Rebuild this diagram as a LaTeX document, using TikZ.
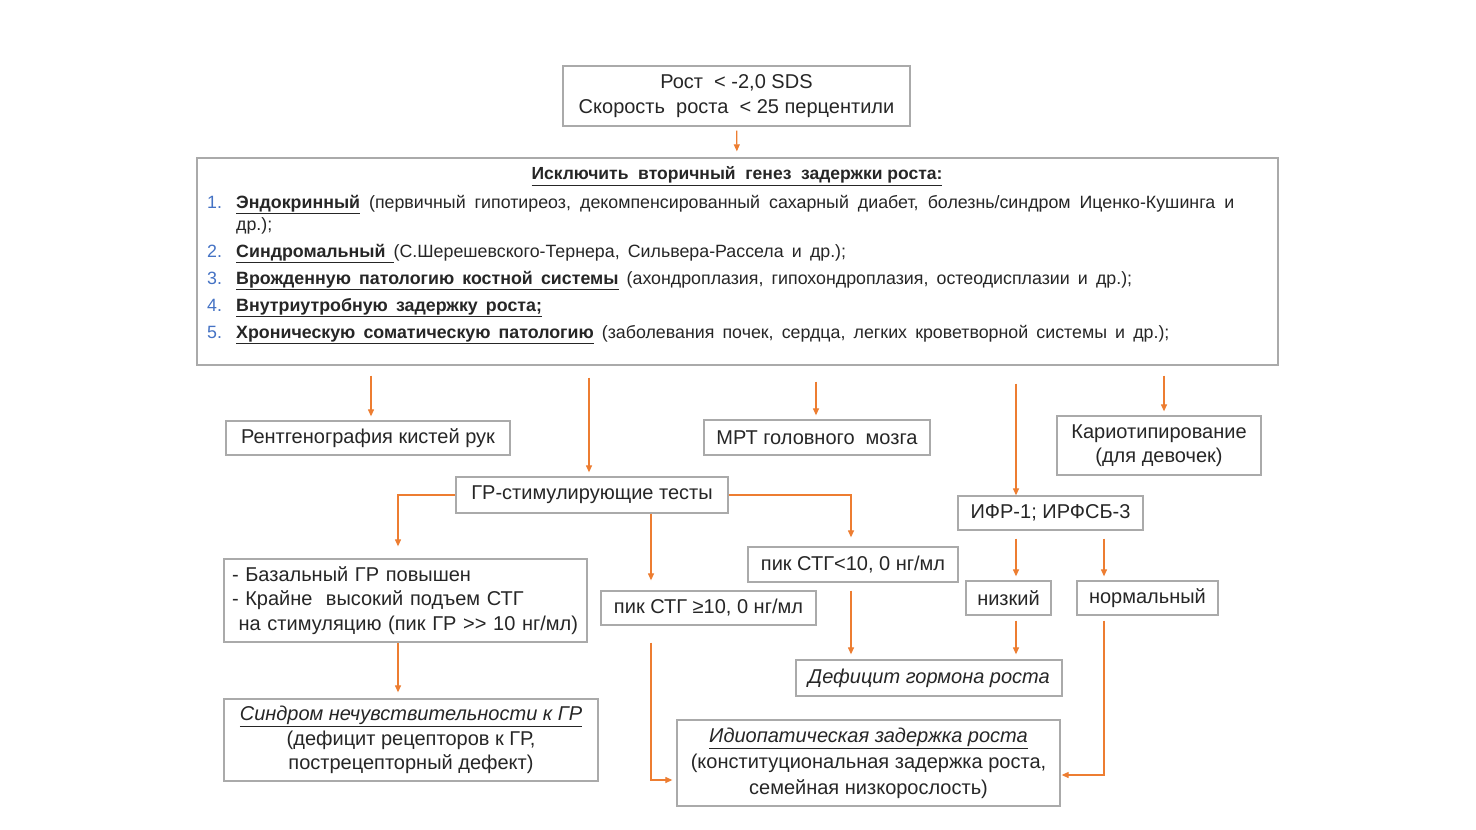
\documentclass[tikz,border=0pt]{standalone}
\usepackage{fontspec}
\setmainfont{Liberation Sans}
\newfontfamily\listfont[WordSpace=1.65]{Liberation Sans}
\usetikzlibrary{arrows.meta}
\definecolor{white}{RGB}{255,255,255}
\definecolor{box_gray}{RGB}{170,170,170}
\definecolor{text_dark}{RGB}{38,38,38}
\definecolor{arrow_orange}{RGB}{237,125,49}
\definecolor{num_blue}{RGB}{68,114,196}
\newcommand{\itemnum}[1]{\makebox[29pt][l]{\color{num_blue}#1}}

\tikzset{
	block/.style={rectangle,draw=box_gray,line width=1.3pt,fill=white,inner sep=0pt,
		align=center,text=text_dark,font=\fontsize{20}{24.5}\selectfont},
	listtext/.style={inner sep=0pt,align=left,text=text_dark,font=\listfont\fontsize{17.8}{22}\selectfont},
	arr/.style={arrow_orange,line width=1.2pt,-{Triangle[length=7pt,width=6pt]}},
}

\begin{document}
\begin{tikzpicture}[x=1pt,y=-1pt]
	\useasboundingbox[fill=white] (0,0) rectangle (1476,830);

	% top and main boxes
	\node[block,minimum width=347pt,minimum height=60pt] (height) at (736.5,96)
		{Рост~~<~-2,0 SDS\\Скорость~~роста~~<~25 перцентили};
	\node[block,minimum width=1081pt,minimum height=207pt] (excl) at (737.5,261.5) {};
	\node[inner sep=0pt,text=text_dark,font=\fontsize{17.5}{22}\selectfont\bfseries] (excl_title) at (737,176)
		{\underline{Исключить~~вторичный~~генез~~задержки~роста:}};
	\node[listtext,anchor=north west] (excl_list) at (207,195) {%
		\itemnum{1.}\makebox[998pt][s]{\textbf{\underline{Эндокринный}} (первичный гипотиреоз, декомпенсированный сахарный диабет, болезнь/синдром Иценко-Кушинга и}\\
		\hspace*{29pt}др.);\\[5pt]
		\itemnum{2.}\textbf{\underline{Синдромальный }}(С.Шерешевского-Тернера, Сильвера-Рассела и др.);\\[5pt]
		\itemnum{3.}\textbf{\underline{Врожденную патологию костной системы}} (ахондроплазия, гипохондроплазия, остеодисплазии и др.);\\[5pt]
		\itemnum{4.}\textbf{\underline{Внутриутробную задержку роста;}}\\[5pt]
		\itemnum{5.}\textbf{\underline{Хроническую соматическую патологию}} (заболевания почек, сердца, легких кроветворной системы и др.);};

	% first examinations
	\node[block,minimum width=284pt,minimum height=34pt] (xray) at (368,438) {Рентгенография кистей рук};
	\node[block,minimum width=226pt,minimum height=35pt] (mri) at (817,437.5) {МРТ головного~ мозга};
	\node[block,minimum width=204pt,minimum height=59pt] (karyo) at (1159,445.5) {Кариотипирование\\(для девочек)};
	\node[block,minimum width=272pt,minimum height=36pt] (gh_tests) at (592,495) {ГР-стимулирующие тесты};
	\node[block,minimum width=185pt,minimum height=34pt] (igf) at (1050.5,513) {ИФР-1; ИРФСБ-3};

	% test results
	\node[block,text width=347pt,inner xsep=8pt,minimum height=83pt,align=left] (basal) at (405.5,600.5)
		{- Базальный ГР повышен\\- Крайне~ высокий подъем СТГ\\\ на стимуляцию (пик ГР >{}> 10 нг/мл)};
	\node[block,minimum width=215pt,minimum height=34pt] (peak_high) at (708.5,608) {пик СТГ ≥10, 0 нг/мл};
	\node[block,minimum width=210pt,minimum height=35pt] (peak_low) at (853,564.5) {пик СТГ<10, 0 нг/мл};
	\node[block,minimum width=85pt,minimum height=34pt] (low) at (1008.5,598) {низкий};
	\node[block,minimum width=141pt,minimum height=34pt] (normal) at (1147.5,598) {нормальный};

	% diagnoses
	\node[block,minimum width=266pt,minimum height=36pt] (ghd) at (929,678) {\itshape Дефицит гормона роста};
	\node[block,minimum width=374pt,minimum height=82pt] (insens) at (411,740)
		{\itshape\underline{Синдром нечувствительности к ГР}\\(дефицит рецепторов к ГР,\\пострецепторный дефект)};
	\node[block,minimum width=383pt,minimum height=86pt,font=\fontsize{20}{26}\selectfont] (idio) at (868.5,763)
		{\itshape\underline{Идиопатическая задержка роста}\\(конституциональная задержка роста,\\семейная низкорослость)};

	% connectors
	\draw[arr,shorten <=4pt,shorten >=6pt] (height) -- (excl);
	\foreach \x/\y/\s in {371/xray/10,589/gh_tests/12,816/mri/16,1164/karyo/10}
		\draw[arr,shorten <=\s pt,shorten >=4pt] (excl.south -| \x,0) -- (\y.north -| \x,0);
	\draw[arr,shorten <=18pt] (excl.south -| 1016,0) -- (igf.north -| 1016,0);
	\draw[arr,shorten >=12pt] (gh_tests.west) -| (basal.north -| 398,0);
	\draw[arr,shorten >=10pt] (gh_tests.south -| 651,0) -- (peak_high.north -| 651,0);
	\draw[arr,shorten >=9pt] (gh_tests.east) -| (peak_low.north -| 851,0);
	\draw[arr,shorten <=8pt,shorten >=4pt] (igf.south -| 1016,0) -- (low.north -| 1016,0);
	\draw[arr,shorten <=8pt,shorten >=4pt] (igf.south -| 1104,0) -- (normal.north -| 1104,0);
	\draw[arr,shorten <=8pt,shorten >=5pt] (peak_low.south -| 851,0) -- (ghd.north -| 851,0);
	\draw[arr,shorten <=5pt,shorten >=5pt] (low.south -| 1016,0) -- (ghd.north -| 1016,0);
	\draw[arr,shorten >=6pt] (basal.south -| 398,0) -- (insens.north -| 398,0);
	\draw[arr,shorten <=17pt,shorten >=4pt] (peak_high.south -| 651,0) |- (idio.west |- 0,780);
	\draw[arr,shorten <=5pt,shorten >=1pt] (normal.south -| 1104,0) |- (idio.east |- 0,775);
\end{tikzpicture}
\end{document}
